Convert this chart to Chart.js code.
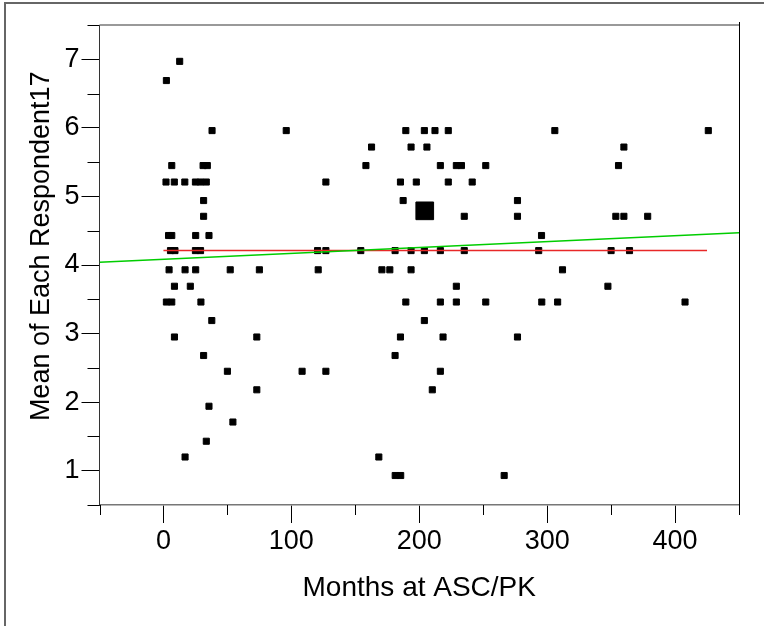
<!DOCTYPE html>
<html>
<head>
<meta charset="utf-8">
<script src="https://cdn.jsdelivr.net/npm/chart.js@4.4.1/dist/chart.umd.min.js"></script>
<style>
  html, body { margin: 0; padding: 0; background: #fff; }
  canvas { display: block; }
</style>
</head>
<body>
<canvas id="chart" width="764" height="626"></canvas>
<script>
const levels = [6.97, 6.69, 5.96, 5.72, 5.45, 5.21, 4.94, 4.71, 4.43, 4.21, 3.93, 3.69,
  3.46, 3.19, 2.95, 2.68, 2.45, 2.18, 1.94, 1.71, 1.43, 1.20, 0.93];
const monthsAtLevel = [
  [12.7],
  [2.3],
  [38, 96, 189.5, 204, 212.3, 222.7, 306, 426],
  [162.7, 193.6, 206, 360],
  [6.5, 31, 34.3, 158.3, 216.5, 229, 233, 252, 355.8],
  [2, 8.5, 16.7, 25, 29, 33.5, 127, 185.3, 197.7, 222.7, 241.4],
  [31.4, 187.4, 276.8],
  [31.4, 235.2, 276.8, 353.7, 360, 378.6],
  [4, 6.5, 25.2, 35.6, 295.6],
  [5.5, 9, 25, 29, 120.5, 127, 154.3, 181.1, 193.6, 204, 216.5, 235.2, 293.4, 350, 364.4],
  [4.4, 16.9, 25.2, 52.2, 75, 121, 170.8, 177, 193.6, 312],
  [8.6, 21, 229, 347.5],
  [2.3, 6.5, 29.3, 189.5, 216.5, 229, 252, 295.8, 308.2, 407.8],
  [37.8, 204],
  [8.6, 73, 185.3, 218.6, 276.8],
  [31.4, 181.1],
  [50, 108.4, 127, 216.5],
  [73, 210.2],
  [35.6],
  [54.3],
  [33.5],
  [16.9, 168.4],
  [181.2, 185.5, 266.4]
];
// the one enlarged marker
const bigX = [204.3];
const bigY = [4.79];
// linear fit and mean lines
const fitX = [-50, 450];
const fitY = [4.04, 4.47];
const meanX = [0, 425];
const meanY = [4.21, 4.21];

const xTicksShown = [0, 100, 200, 300, 400];
const yTicksShown = [1, 2, 3, 4, 5, 6, 7];

const points = [];
levels.forEach((lv, i) => monthsAtLevel[i].forEach(m => points.push({ x: m, y: lv })));
const zip = (xs, ys) => xs.map((v, i) => ({ x: v, y: ys[i] }));

const frame = {
  id: "frame",
  beforeDraw(chart) {
    const ctx = chart.ctx;
    ctx.save();
    ctx.fillStyle = "#fff";
    ctx.fillRect(0, 0, chart.width, chart.height);
    ctx.strokeStyle = "#666";
    ctx.lineWidth = 2;
    ctx.beginPath();
    ctx.moveTo(5, chart.height);
    ctx.lineTo(5, 3);
    ctx.lineTo(chart.width, 3);
    ctx.stroke();
    ctx.restore();
  },
  afterDraw(chart) {
    const { ctx, chartArea: a, scales: { x, y } } = chart;
    ctx.save();
    ctx.strokeStyle = "#000";
    ctx.lineWidth = 1;
    ctx.beginPath();
    x.ticks.forEach(t => {
      if (xTicksShown.includes(t.value)) return;
      const px = Math.round(x.getPixelForValue(t.value)) + 0.5;
      ctx.moveTo(px, a.bottom);
      ctx.lineTo(px, a.bottom + 10);
    });
    y.ticks.forEach(t => {
      if (yTicksShown.includes(t.value)) return;
      const py = Math.round(y.getPixelForValue(t.value)) + 0.5;
      ctx.moveTo(a.left - 12, py);
      ctx.lineTo(a.left, py);
    });
    ctx.stroke();
    // top and right edges of the frame
    ctx.strokeStyle = "#777";
    ctx.lineWidth = 1.5;
    ctx.beginPath();
    ctx.moveTo(a.left, a.top);
    ctx.lineTo(a.right, a.top);
    ctx.stroke();
    ctx.strokeStyle = "#000";
    ctx.lineWidth = 1;
    ctx.beginPath();
    ctx.moveTo(Math.round(a.right) + 0.5, a.top - 3);
    ctx.lineTo(Math.round(a.right) + 0.5, a.bottom);
    ctx.stroke();
    ctx.restore();
  }
};

Chart.defaults.font.family = "'Liberation Sans', Arial, sans-serif";
Chart.defaults.color = "#000";

new Chart(document.getElementById("chart"), {
  type: "scatter",
  data: {
    datasets: [
      {
        data: zip(fitX, fitY), showLine: true, pointRadius: 0,
        borderColor: "rgb(0,205,0)", borderWidth: 1.5, order: 0
      },
      {
        data: zip(meanX, meanY), showLine: true, pointRadius: 0,
        borderColor: "rgb(232,40,40)", borderWidth: 1.5, order: 0
      },
      {
        data: points, pointStyle: "rect", pointRadius: 4.3,
        backgroundColor: "#000", borderColor: "#000", borderWidth: 1, order: 1
      },
      {
        data: zip(bigX, bigY), pointStyle: "rect", pointRadius: 12.5,
        backgroundColor: "#000", borderColor: "#000", borderWidth: 1, order: 1
      }
    ]
  },
  options: {
    responsive: false,
    animation: false,
    events: [],
    layout: { padding: { top: 25, right: 25, left: 0, bottom: 0 } },
    plugins: { legend: { display: false }, tooltip: { enabled: false } },
    scales: {
      x: {
        type: "linear", min: -50, max: 450,
        afterFit: s => { s.height = 121; },
        ticks: {
          stepSize: 50, padding: 2, maxRotation: 0, autoSkip: false,
          font: { size: 27 },
          callback: v => xTicksShown.includes(v) ? String(v) : ""
        },
        grid: {
          drawOnChartArea: false, drawTicks: true, tickLength: 18,
          tickColor: c => c.tick && xTicksShown.includes(c.tick.value) ? "#000" : "rgba(0,0,0,0)"
        },
        border: { display: true, color: "#777", width: 1.5 },
        title: { display: true, text: "Months at ASC/PK", font: { size: 28 }, padding: { top: 0, bottom: 21 } }
      },
      y: {
        type: "linear", min: 0.5, max: 7.5,
        afterFit: s => { s.width = 99.5; },
        ticks: {
          stepSize: 0.5, padding: 2, autoSkip: false,
          font: { size: 27 },
          callback: v => yTicksShown.includes(v) ? String(v) : ""
        },
        grid: {
          drawOnChartArea: false, drawTicks: true, tickLength: 18,
          tickColor: c => c.tick && yTicksShown.includes(c.tick.value) ? "#000" : "rgba(0,0,0,0)"
        },
        border: { display: true, color: "#333", width: 1 },
        title: { display: true, text: "     Mean of Each Respondent17", font: { size: 27 }, padding: { top: 25, bottom: 0 } }
      }
    }
  },
  plugins: [frame]
});
</script>
</body>
</html>
